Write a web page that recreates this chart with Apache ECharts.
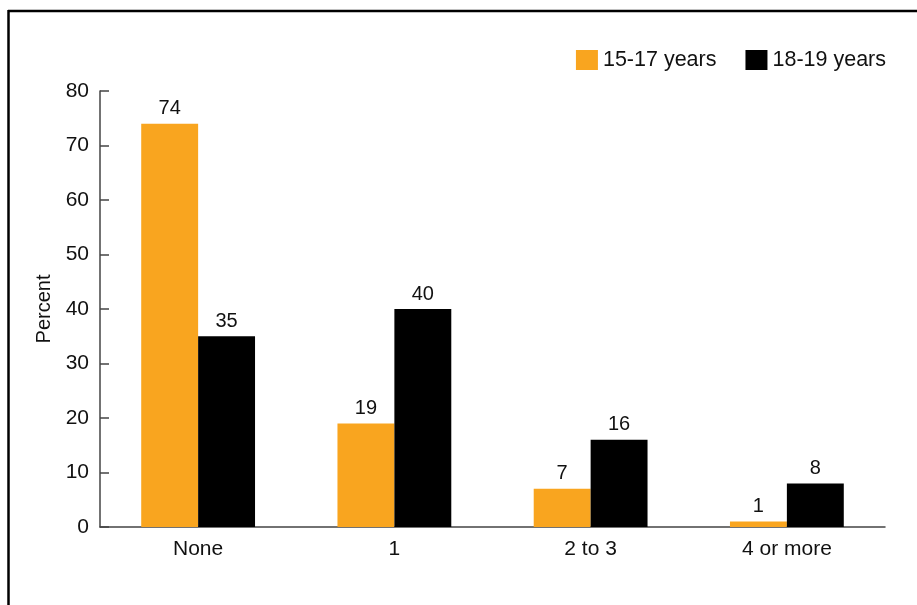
<!DOCTYPE html>
<html>
<head>
<meta charset="utf-8">
<script src="https://cdn.jsdelivr.net/npm/echarts@6/dist/echarts.min.js"></script>
<style>
  html, body { margin: 0; padding: 0; background: #fff; }
  #container { width: 917px; height: 605px; }
</style>
</head>
<body>
<div id="container"></div>
<script>
// bar chart
var categories = ['None', '1', '2 to 3', '4 or more'];
var seriesNames = ['15-17 years', '18-19 years'];
var teens1517 = [74, 19, 7, 1];
var teens1819 = [35, 40, 16, 8];
var yTicks = [0, 10, 20, 30, 40, 50, 60, 70, 80];

var dom = document.getElementById('container');
var myChart = echarts.init(dom, null, { renderer: 'canvas' });
var font = 'Liberation Sans, Arial, sans-serif';

var labelStyle = {
    show: true,
    position: 'top',
    distance: 5,
    color: '#111',
    fontSize: 20,
    fontFamily: font
};

var option = {
    animation: false,
    grid: { left: 100, right: 32, top: 91, bottom: 78 },
    legend: {
        data: seriesNames,
        icon: 'rect',
        right: 26,
        top: 44,
        itemWidth: 22,
        itemHeight: 20,
        itemGap: 29,
        textStyle: { fontSize: 21.5, fontFamily: font, color: '#111' }
    },
    // frame lines (top and left only)
    graphic: [
        { type: 'line', shape: { x1: 8, y1: 11, x2: 917, y2: 11 }, style: { stroke: '#000', lineWidth: 2.5 } },
        { type: 'line', shape: { x1: 8.5, y1: 10, x2: 8.5, y2: 605 }, style: { stroke: '#000', lineWidth: 2.5 } }
    ],
    xAxis: {
        type: 'category',
        data: categories,
        axisTick: { show: false },
        axisLine: { lineStyle: { color: '#444', width: 1.5 } },
        axisLabel: { fontSize: 21, fontFamily: font, color: '#111', margin: 12 }
    },
    yAxis: {
        type: 'value',
        min: yTicks[0],
        max: yTicks[yTicks.length - 1],
        interval: 10,
        name: 'Percent',
        nameLocation: 'middle',
        nameGap: 45,
        nameTextStyle: { fontSize: 20, fontFamily: font, color: '#111' },
        axisLine: { show: true, lineStyle: { color: '#444', width: 1.5 } },
        axisTick: { show: true, inside: true, length: 9, lineStyle: { color: '#444', width: 1.5 } },
        splitLine: { show: false },
        axisLabel: { fontSize: 21, fontFamily: font, color: '#111', margin: 11 }
    },
    series: [
        {
            name: seriesNames[0],
            type: 'bar',
            data: teens1517,
            barGap: '0%',
            barCategoryGap: '42%',
            itemStyle: { color: '#F9A51F' },
            label: labelStyle
        },
        {
            name: seriesNames[1],
            type: 'bar',
            data: teens1819,
            barGap: '0%',
            barCategoryGap: '42%',
            itemStyle: { color: '#000' },
            label: labelStyle
        }
    ]
};

myChart.setOption(option);
window.addEventListener('resize', myChart.resize);
</script>
</body>
</html>
